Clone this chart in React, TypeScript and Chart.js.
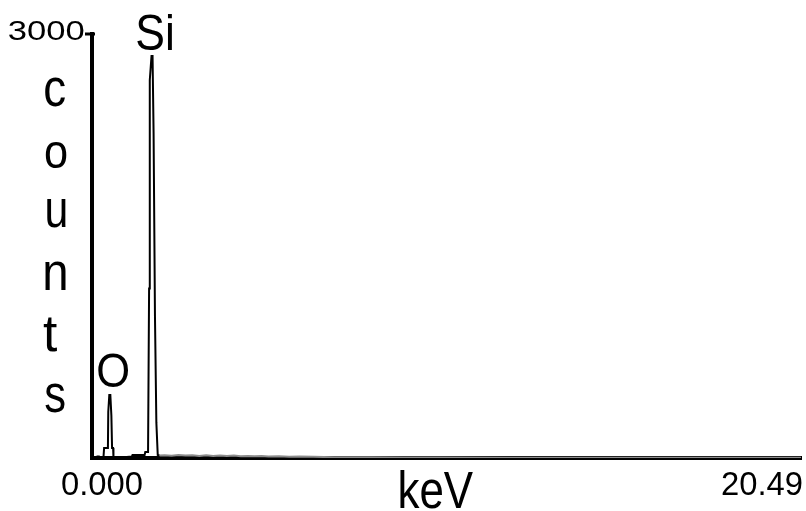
import React, { useEffect, useRef } from "react";
import { Chart, registerables } from "chart.js";

Chart.register(...registerables);

// ---- data ----
const peakEnergy = [0, 0.15, 0.16, 0.2, 0.21, 0.33, 0.35, 0.46, 0.47, 0.5, 0.53, 0.56, 0.58, 0.61, 0.62, 1.0, 1.15, 1.17, 1.52, 1.54, 1.62, 1.65, 1.67, 1.72, 1.75, 1.78, 1.82, 1.86, 1.9, 1.95];
const peakCounts = [0, 0, 10, 10, 0, 0, 71, 71, 326, 446, 446, 300, 71, 71, 7, 7, 10, 21, 21, 42, 42, 1200, 2675, 2845, 2845, 2300, 1000, 250, 21, 18];
const bgEnergy = [1.95, 2.1, 2.3, 2.5, 2.7, 2.9, 3.1, 3.3, 3.5, 3.7, 3.9, 4.1, 4.3, 4.5, 4.7, 4.9, 5.1, 5.4, 5.7, 6.0, 6.4, 7.0, 8.0, 9.0, 10.0, 12.0, 15.0, 20.49];
const bgCounts = [18, 20, 16, 21, 17, 20, 15, 19, 14, 18, 15, 17, 13, 15, 12, 14, 11, 12, 9, 10, 8, 6, 5, 4, 3, 2, 2, 2];

const xMin = 0;
const xMax = 20.49;
const yMin = 0;
const yMax = 3000;
const xTickLabels = ["0.000", "20.49"];
const yTickLabels = ["3000"];
const yTitleLetters = ["c", "o", "u", "n", "t", "s"];
const xTitle = "keV";
const elementLabels = ["O", "Si"];

// ---- layout of the text boxes (ink boxes: left, right, top, bottom) ----
const FONT = '"Liberation Sans", Arial, sans-serif';
const xTickBoxes = [
  [62, 142, 472, 495],
  [722, 802, 472, 495],
];
const yTickBoxes = [[9, 84, 20, 40]];
const yTitleBoxes = [
  [45, 65, 78, 107],
  [45, 67, 142, 168],
  [47, 66, 200, 228],
  [45, 66, 262, 290],
  [43, 57, 318, 352],
  [45, 65, 383, 413],
];
const xTitleBox = [400, 473, 470, 509];
const elementBoxes = [
  [98, 128, 353, 387],
  [137, 172, 13, 50],
];

function drawBox(ctx: CanvasRenderingContext2D, text: string, box: number[]) {
  const [left, right, top, bottom] = box;
  ctx.save();
  ctx.font = `100px ${FONT}`;
  const m = ctx.measureText(text);
  const inkH = m.actualBoundingBoxAscent + m.actualBoundingBoxDescent;
  const size = (100 * (bottom - top)) / inkH;
  ctx.font = `${size}px ${FONT}`;
  const m2 = ctx.measureText(text);
  const inkW = m2.actualBoundingBoxLeft + m2.actualBoundingBoxRight;
  const sx = (right - left) / inkW;
  const baseline = bottom - m2.actualBoundingBoxDescent;
  ctx.translate(left + m2.actualBoundingBoxLeft * sx, baseline);
  ctx.scale(sx, 1);
  ctx.textAlign = "left";
  ctx.textBaseline = "alphabetic";
  ctx.fillStyle = "#000";
  ctx.fillText(text, 0, 0);
  ctx.restore();
}

const labelPlugin = {
  id: "edxLabels",
  afterDraw(chart: any) {
    const ctx = chart.ctx as CanvasRenderingContext2D;
    const y = chart.scales.y;
    const x = chart.scales.x;
    // tick mark at top of y axis
    const ty = y.getPixelForValue(yMax);
    ctx.save();
    ctx.strokeStyle = "#000";
    ctx.lineWidth = 3;
    ctx.beginPath();
    ctx.moveTo(x.left - 7, ty);
    ctx.lineTo(x.left + 3, ty);
    ctx.stroke();
    ctx.restore();

    xTickLabels.forEach((t, i) => drawBox(ctx, t, xTickBoxes[i]));
    yTickLabels.forEach((t, i) => drawBox(ctx, t, yTickBoxes[i]));
    yTitleLetters.forEach((t, i) => drawBox(ctx, t, yTitleBoxes[i]));
    drawBox(ctx, xTitle, xTitleBox);
    elementLabels.forEach((t, i) => drawBox(ctx, t, elementBoxes[i]));
  },
};

export default function App() {
  const ref = useRef<HTMLCanvasElement | null>(null);
  useEffect(() => {
    if (!ref.current) return;
    const chart = new Chart(ref.current, {
      type: "line",
      data: {
        datasets: [
          {
            label: "peaks",
            data: peakEnergy.map((e, i) => ({ x: e, y: peakCounts[i] })),
            borderColor: "#000",
            borderWidth: 2,
            pointRadius: 0,
            tension: 0,
          },
          {
            label: "background",
            data: bgEnergy.map((e, i) => ({ x: e, y: bgCounts[i] })),
            borderColor: "#8c8c8c",
            borderWidth: 2,
            pointRadius: 0,
            tension: 0,
          },
        ],
      },
      options: {
        responsive: false,
        animation: false,
        events: [],
        layout: { padding: { left: 92, top: 34, right: 5, bottom: 53 } },
        plugins: { legend: { display: false }, tooltip: { enabled: false }, title: { display: false } },
        scales: {
          x: {
            type: "linear",
            min: xMin,
            max: xMax,
            grid: { display: false, drawTicks: false },
            ticks: { display: false },
            border: { display: true, color: "#000", width: 4 },
          },
          y: {
            type: "linear",
            min: yMin,
            max: yMax,
            grid: { display: false, drawTicks: false },
            ticks: { display: false },
            border: { display: true, color: "#000", width: 4 },
          },
        },
      },
      plugins: [labelPlugin],
    });
    return () => chart.destroy();
  }, []);
  return (
    <div style={{ position: "fixed", left: 0, top: 0, width: 806, height: 511, background: "#fff" }}>
      <canvas ref={ref} width={806} height={511} style={{ display: "block" }} />
    </div>
  );
}
